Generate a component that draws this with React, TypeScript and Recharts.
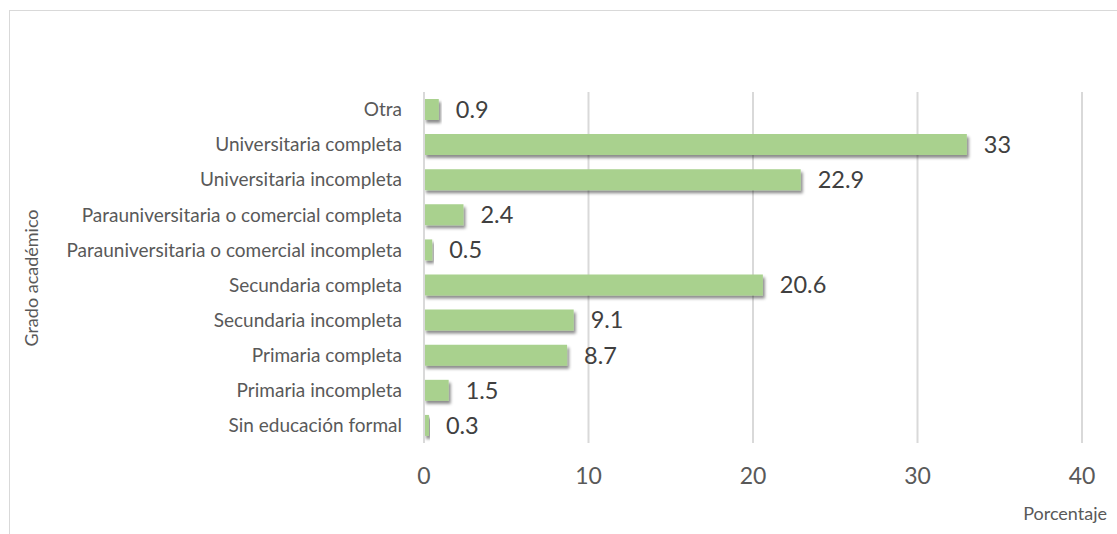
import React from 'react';
import { BarChart, Bar, XAxis, YAxis, CartesianGrid, LabelList } from 'recharts';

// Grado académico (top to bottom as drawn)
const CATEGORIES = [
  'Otra',
  'Universitaria completa',
  'Universitaria incompleta',
  'Parauniversitaria o comercial completa',
  'Parauniversitaria o comercial incompleta',
  'Secundaria completa',
  'Secundaria incompleta',
  'Primaria completa',
  'Primaria incompleta',
  'Sin educación formal',
];

// Porcentaje
const VALUES = [0.9, 33, 22.9, 2.4, 0.5, 20.6, 9.1, 8.7, 1.5, 0.3];

const X_TICKS = [0, 10, 20, 30, 40];

const data = CATEGORIES.map((name, i) => ({ name, value: VALUES[i] }));

const FONT = 'Lato, "Open Sans", sans-serif';

const App: React.FC = () => {
  return (
    <div style={{ position: 'absolute', left: 0, top: 0, width: 1117, height: 534, background: '#fff', fontFamily: FONT }}>
      {/* shadow filter shared with the bars */}
      <svg width={0} height={0} style={{ position: 'absolute' }}>
        <defs>
          <filter id="barShadow" x="-10%" y="-30%" width="130%" height="180%">
            <feDropShadow dx={2} dy={3} stdDeviation={1.8} floodColor="#000" floodOpacity={0.45} />
          </filter>
        </defs>
      </svg>
      {/* chart area border */}
      <div
        style={{
          position: 'absolute',
          left: 9,
          top: 10,
          width: 1200,
          height: 600,
          borderTop: '1px solid #d9d9d9',
          borderLeft: '1px solid #d9d9d9',
        }}
      />
      <div style={{ position: 'absolute', left: 0, top: 0 }}>
        <BarChart
          width={1117}
          height={534}
          data={data}
          layout="vertical"
          margin={{ top: 92, right: 35, bottom: 31, left: 0 }}
          barCategoryGap="20%"
        >
          <CartesianGrid horizontal={false} stroke="#d9d9d9" strokeWidth={2} />
          <XAxis
            type="number"
            domain={[0, 40]}
            ticks={X_TICKS}
            axisLine={false}
            tickLine={false}
            tickSize={0}
            tickMargin={25}
            height={60}
            tick={{ fill: '#595959', fontSize: 23, fontFamily: FONT }}
            label={{
              content: () => (
                <text x={1107} y={520} textAnchor="end" fill="#595959" fontSize={18} fontFamily={FONT}>
                  Porcentaje
                </text>
              ),
            }}
          />
          <YAxis
            type="category"
            dataKey="name"
            width={424}
            interval={0}
            axisLine={{ stroke: '#d9d9d9', strokeWidth: 2 }}
            tickLine={false}
            tickSize={0}
            tickMargin={22}
            tick={{ fill: '#595959', fontSize: 19, fontFamily: FONT }}
            label={{
              content: () => (
                <text
                  x={38}
                  y={278}
                  transform="rotate(-90 38 278)"
                  textAnchor="middle"
                  fill="#595959"
                  fontSize={18}
                  fontFamily={FONT}
                >
                  Grado académico
                </text>
              ),
            }}
          />
          <Bar dataKey="value" fill="#a9d18e" filter="url(#barShadow)" isAnimationActive={false}>
            <LabelList
              dataKey="value"
              position="right"
              offset={17}
              fill="#404040"
              fontSize={23.5}
              fontFamily={FONT}
            />
          </Bar>
        </BarChart>
      </div>
    </div>
  );
};

export default App;
